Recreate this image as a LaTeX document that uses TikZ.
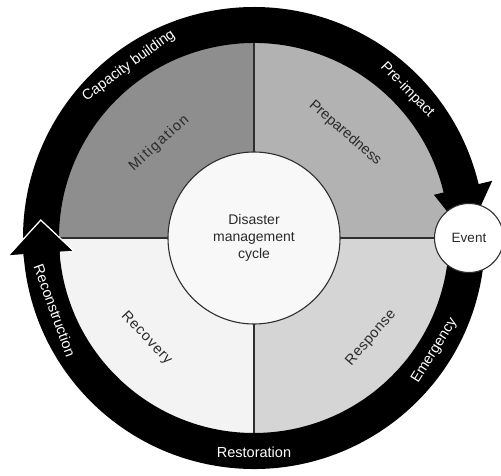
\documentclass[tikz,border=0pt]{standalone}
\usepackage{fontspec}
\setmainfont{Liberation Sans}
\usetikzlibrary{calc}
\definecolor{mitcol}{HTML}{8E8E8E}
\definecolor{precol}{HTML}{B2B2B2}
\definecolor{reccol}{HTML}{F3F3F3}
\definecolor{rescol}{HTML}{D5D5D5}
\definecolor{hubcol}{HTML}{F8F8F8}
\definecolor{linecol}{HTML}{2E2E2E}
\definecolor{labcol}{HTML}{2A2A2A}
\begin{document}
\begin{tikzpicture}[x=1pt,y=1pt,
  divline/.style={draw=linecol, line width=1.6pt},
  ringtext/.style={text=white, font=\fontsize{14.5}{16}\selectfont, inner sep=0pt},
  phaselabel/.style={text=labcol, font=\fontsize{14.5}{16}\selectfont, inner sep=0pt},
  hubstyle/.style={circle, draw=linecol, line width=1.1pt, fill=hubcol, minimum size=172pt, inner sep=0pt, align=center, text=labcol, font=\fontsize{14}{17}\selectfont},
  eventstyle/.style={circle, draw=linecol, line width=1.1pt, fill=white, minimum size=69pt, inner sep=0pt, text=labcol, font=\fontsize{13.5}{15}\selectfont}
]
\useasboundingbox (0,0) rectangle (501,475);
\fill[white] (0,0) rectangle (501,475);
\coordinate (c) at (254,237);

% quadrants
\fill[mitcol] (c) -- ++(90:198) arc[start angle=90,end angle=180,radius=198] -- cycle;
\fill[precol] (c) -- ++(0:198) arc[start angle=0,end angle=90,radius=198] -- cycle;
\fill[reccol] (c) -- ++(180:198) arc[start angle=180,end angle=270,radius=198] -- cycle;
\fill[rescol] (c) -- ++(270:198) arc[start angle=270,end angle=360,radius=198] -- cycle;

% dividers
\draw[divline, shift={(c)}] (-197,0) -- (197,0) (0,-197) -- (0,197);

% centre
\node[hubstyle] (hub) at (c) {Disaster\\management\\cycle};

% top arc with arrow
\fill[black, shift={(c)}] (185:231) arc[start angle=185,end angle=13,radius=231]
  -- (13:195) arc[start angle=13,end angle=185,radius=195] -- cycle;
\fill[black, shift={(c)}] (13.5:185) -- (13.5:245) -- (0.5:213) -- cycle;

% bottom arc with arrow
\fill[black, shift={(c)}] (-8:231) arc[start angle=-8,end angle=-176.5,radius=231]
  -- (-176.5:195) arc[start angle=-176.5,end angle=-8,radius=195] -- cycle;
\fill[black, shift={(c)}] (184:245) -- (175.2:214) -- (184:182) -- cycle;
\draw[white, line width=1.3pt, line join=miter, shift={(c)}] (184:246) -- (175.2:214) -- (184:181);

% event
\node[eventstyle] (event) at (469,237) {Event};

% ring labels
\node[ringtext, rotate=36] (capacity) at ($(c)+(126:213)$) {Capacity building};
\node[ringtext, rotate=-46] (preimpact) at ($(c)+(44:213)$) {Pre-impact};
\node[ringtext, rotate=-70] (reconstruction) at ($(c)+(200:212)$) {Reconstruction};
\node[ringtext, rotate=58] (emergency) at ($(c)+(-32:213)$) {Emergency};
\node[ringtext, rotate=0] (restoration) at ($(c)+(-90:214)$) {Restoration};

% phase labels
\node[phaselabel, rotate=42] (mitigation) at ($(c)+(135:134)$) {\addfontfeatures{LetterSpace=10}Mitigation};
\node[phaselabel, rotate=-41] (preparedness) at ($(c)+(49:139)$) {Preparedness};
\node[phaselabel, rotate=-47] (recovery) at ($(c)+(223:147)$) {\addfontfeatures{LetterSpace=6}Recovery};
\node[phaselabel, rotate=49] (response) at ($(c)+(-40.5:154)$) {\addfontfeatures{LetterSpace=3}Response};
\end{tikzpicture}
\end{document}
